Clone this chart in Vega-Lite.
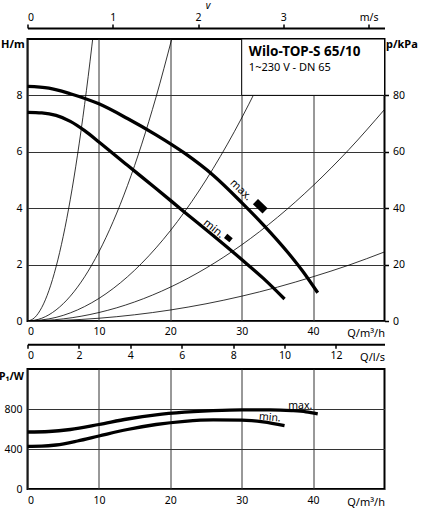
{
  "$schema": "https://vega.github.io/schema/vega-lite/v6.json",
  "padding": {"left": -2.5, "top": 0, "right": 0, "bottom": 0},
  "background": "#ffffff",
  "config": {
    "font": "Noto Sans",
    "view": {"stroke": "#000000", "strokeWidth": 2},
    "axis": {
      "labelFont": "Noto Sans", "labelFontSize": 10.5, "labelColor": "#000000",
      "titleFont": "Noto Sans", "titleColor": "#000000", "titleFontSize": 11, "titleFontWeight": "normal",
      "domain": false, "ticks": false, "grid": false,
      "gridColor": "#333333", "gridWidth": 1, "gridOpacity": 1, "labelPadding": 5
    }
  },
  "datasets": {
    "system": [
      {"k": "s1", "Q": 0, "H": 0}, {"k": "s1", "Q": 1, "H": 0.12}, {"k": "s1", "Q": 2, "H": 0.48}, {"k": "s1", "Q": 3, "H": 1.08},
      {"k": "s1", "Q": 4, "H": 1.92}, {"k": "s1", "Q": 5, "H": 3.0}, {"k": "s1", "Q": 6, "H": 4.32}, {"k": "s1", "Q": 7, "H": 5.88},
      {"k": "s1", "Q": 8, "H": 7.68}, {"k": "s1", "Q": 9, "H": 9.72}, {"k": "s1", "Q": 9.13, "H": 10.0},
      {"k": "s2", "Q": 0, "H": 0}, {"k": "s2", "Q": 2, "H": 0.098}, {"k": "s2", "Q": 4, "H": 0.392}, {"k": "s2", "Q": 6, "H": 0.882},
      {"k": "s2", "Q": 8, "H": 1.568}, {"k": "s2", "Q": 10, "H": 2.45}, {"k": "s2", "Q": 12, "H": 3.528}, {"k": "s2", "Q": 14, "H": 4.802},
      {"k": "s2", "Q": 16, "H": 6.272}, {"k": "s2", "Q": 18, "H": 7.938}, {"k": "s2", "Q": 20.2, "H": 10.0},
      {"k": "s3", "Q": 0, "H": 0}, {"k": "s3", "Q": 4, "H": 0.128}, {"k": "s3", "Q": 8, "H": 0.512}, {"k": "s3", "Q": 12, "H": 1.152},
      {"k": "s3", "Q": 16, "H": 2.048}, {"k": "s3", "Q": 20, "H": 3.2}, {"k": "s3", "Q": 24, "H": 4.608}, {"k": "s3", "Q": 28, "H": 6.272},
      {"k": "s3", "Q": 32, "H": 8.192}, {"k": "s3", "Q": 34, "H": 9.248},
      {"k": "s4", "Q": 0, "H": 0}, {"k": "s4", "Q": 5, "H": 0.075}, {"k": "s4", "Q": 10, "H": 0.3}, {"k": "s4", "Q": 15, "H": 0.675},
      {"k": "s4", "Q": 20, "H": 1.2}, {"k": "s4", "Q": 25, "H": 1.875}, {"k": "s4", "Q": 30, "H": 2.7}, {"k": "s4", "Q": 35, "H": 3.675},
      {"k": "s4", "Q": 40, "H": 4.8}, {"k": "s4", "Q": 45, "H": 6.075}, {"k": "s4", "Q": 50, "H": 7.5},
      {"k": "s5", "Q": 0, "H": 0}, {"k": "s5", "Q": 5, "H": 0.0245}, {"k": "s5", "Q": 10, "H": 0.098}, {"k": "s5", "Q": 15, "H": 0.22},
      {"k": "s5", "Q": 20, "H": 0.39}, {"k": "s5", "Q": 25, "H": 0.61}, {"k": "s5", "Q": 30, "H": 0.88}, {"k": "s5", "Q": 35, "H": 1.2},
      {"k": "s5", "Q": 40, "H": 1.57}, {"k": "s5", "Q": 45, "H": 1.98}, {"k": "s5", "Q": 50, "H": 2.45}
    ],
    "pump": [
      {"curve": "max", "Q": 0, "H": 8.32}, {"curve": "max", "Q": 3, "H": 8.26}, {"curve": "max", "Q": 6, "H": 8.06},
      {"curve": "max", "Q": 10, "H": 7.70}, {"curve": "max", "Q": 14, "H": 7.18}, {"curve": "max", "Q": 18, "H": 6.6},
      {"curve": "max", "Q": 22, "H": 5.95}, {"curve": "max", "Q": 26, "H": 5.17}, {"curve": "max", "Q": 30, "H": 4.2},
      {"curve": "max", "Q": 33, "H": 3.42}, {"curve": "max", "Q": 36.5, "H": 2.42}, {"curve": "max", "Q": 38.5, "H": 1.78},
      {"curve": "max", "Q": 40.65, "H": 1.0},
      {"curve": "min", "Q": 0, "H": 7.40}, {"curve": "min", "Q": 2, "H": 7.38}, {"curve": "min", "Q": 4, "H": 7.29},
      {"curve": "min", "Q": 6, "H": 7.08}, {"curve": "min", "Q": 8, "H": 6.75}, {"curve": "min", "Q": 10, "H": 6.35},
      {"curve": "min", "Q": 14, "H": 5.52}, {"curve": "min", "Q": 18, "H": 4.7}, {"curve": "min", "Q": 22, "H": 3.86},
      {"curve": "min", "Q": 26, "H": 3.03}, {"curve": "min", "Q": 30, "H": 2.18}, {"curve": "min", "Q": 33, "H": 1.52},
      {"curve": "min", "Q": 36, "H": 0.78}
    ],
    "power": [
      {"curve": "max", "Q": 0, "P": 570}, {"curve": "max", "Q": 3, "P": 575}, {"curve": "max", "Q": 6, "P": 595},
      {"curve": "max", "Q": 10, "P": 645}, {"curve": "max", "Q": 14, "P": 700}, {"curve": "max", "Q": 18, "P": 742},
      {"curve": "max", "Q": 22, "P": 768}, {"curve": "max", "Q": 26, "P": 784}, {"curve": "max", "Q": 30, "P": 792},
      {"curve": "max", "Q": 34, "P": 792}, {"curve": "max", "Q": 37, "P": 784}, {"curve": "max", "Q": 39, "P": 772},
      {"curve": "max", "Q": 40.65, "P": 752},
      {"curve": "min", "Q": 0, "P": 426}, {"curve": "min", "Q": 2, "P": 428}, {"curve": "min", "Q": 4, "P": 440},
      {"curve": "min", "Q": 7, "P": 480}, {"curve": "min", "Q": 10, "P": 530}, {"curve": "min", "Q": 14, "P": 595},
      {"curve": "min", "Q": 18, "P": 645}, {"curve": "min", "Q": 22, "P": 677}, {"curve": "min", "Q": 26, "P": 691},
      {"curve": "min", "Q": 30, "P": 689}, {"curve": "min", "Q": 33, "P": 672}, {"curve": "min", "Q": 36, "P": 634}
    ]
  },
  "bounds": "flush",
  "spacing": 0,
  "vconcat": [
    {
      "width": 357,
      "height": 11,
      "view": {"stroke": null},
      "data": {"values": [{"v": 0}, {"v": 4}]},
      "mark": {"type": "rule", "opacity": 0},
      "encoding": {
        "x": {"field": "v", "type": "quantitative", "scale": {"domain": [0, 4.186], "nice": false, "zero": false},
          "axis": {"orient": "top", "values": [0, 1, 2, 3, 4], "labelExpr": "datum.value == 4 ? 'm/s' : datum.label",
            "domain": true, "domainColor": "#000000", "domainWidth": 2, "ticks": true, "tickSize": 4, "tickWidth": 1.5, "tickColor": "#000000",
            "labelPadding": 2, "grid": false,
            "title": "v", "titleFontSize": 10, "titleFontStyle": "italic", "titleX": 180, "titleY": -20, "titleAlign": "center", "titleBaseline": "alphabetic"}}
      }
    },
    {
      "width": 357,
      "height": 282,
      "resolve": {"scale": {"y": "independent"}},
      "layer": [
        {"data": {"name": "system"}, "mark": {"type": "line", "stroke": "#000000", "strokeWidth": 0.8, "interpolate": "monotone", "clip": true},
          "encoding": {
            "x": {"field": "Q", "type": "quantitative", "scale": {"domain": [0, 50], "nice": false, "zero": false},
              "axis": {"orient": "bottom", "values": [0, 10, 20, 30, 40], "grid": true, "labelPadding": 5,
                "title": "Q/m³/h", "titleX": 357, "titleY": 15, "titleAlign": "right", "titleAnchor": "end", "titleBaseline": "alphabetic"}},
            "y": {"field": "H", "type": "quantitative", "scale": {"domain": [0, 10], "nice": false, "zero": false},
              "axis": {"orient": "left", "values": [0, 2, 4, 6, 8], "grid": true, "labelPadding": 5.5,
                "title": "H/m", "titleAngle": 0, "titleX": -27, "titleY": 8.5, "titleAlign": "left", "titleAnchor": "start", "titleBaseline": "alphabetic", "titleFontWeight": "bold"}},
            "detail": {"field": "k"}
          }},
        {"data": {"name": "pump"}, "mark": {"type": "line", "stroke": "#000000", "strokeWidth": 3.3, "interpolate": "monotone", "strokeCap": "butt"},
          "encoding": {
            "x": {"field": "Q", "type": "quantitative"},
            "y": {"field": "H", "type": "quantitative", "scale": {"domain": [0, 10], "nice": false, "zero": false}, "axis": null},
            "detail": {"field": "curve"}
          }},
        {"data": {"values": [{"Q": 30, "H": 8, "Q2": 50, "H2": 10}]}, "mark": {"type": "rect", "fill": "#ffffff", "stroke": "#000000", "strokeWidth": 1},
          "encoding": {
            "x": {"field": "Q", "type": "quantitative"}, "x2": {"field": "Q2"},
            "y": {"field": "H", "type": "quantitative", "scale": {"domain": [0, 10], "nice": false, "zero": false}, "axis": null}, "y2": {"field": "H2"}
          }},
        {"data": {"values": [{"Q": 31, "H": 9.41, "t": "Wilo-TOP-S 65/10"}]}, "mark": {"type": "text", "align": "left", "baseline": "alphabetic", "fontSize": 13.5, "fontWeight": "bold", "color": "#000000"},
          "encoding": {
            "x": {"field": "Q", "type": "quantitative"},
            "y": {"field": "H", "type": "quantitative", "scale": {"domain": [0, 10], "nice": false, "zero": false}, "axis": null},
            "text": {"field": "t"}
          }},
        {"data": {"values": [{"Q": 31, "H": 8.88, "t": "1~230 V - DN 65"}]}, "mark": {"type": "text", "align": "left", "baseline": "alphabetic", "fontSize": 11, "color": "#000000"},
          "encoding": {
            "x": {"field": "Q", "type": "quantitative"},
            "y": {"field": "H", "type": "quantitative", "scale": {"domain": [0, 10], "nice": false, "zero": false}, "axis": null},
            "text": {"field": "t"}
          }},
        {"data": {"values": [{"Q": 29.86, "H": 4.64, "t": "max."}]}, "mark": {"type": "text", "align": "center", "baseline": "middle", "fontSize": 11, "angle": 44, "color": "#000000"},
          "encoding": {
            "x": {"field": "Q", "type": "quantitative"},
            "y": {"field": "H", "type": "quantitative", "scale": {"domain": [0, 10], "nice": false, "zero": false}, "axis": null},
            "text": {"field": "t"}
          }},
        {"data": {"values": [{"Q": 26.07, "H": 3.27, "t": "min."}]}, "mark": {"type": "text", "align": "center", "baseline": "middle", "fontSize": 11, "angle": 39, "color": "#000000"},
          "encoding": {
            "x": {"field": "Q", "type": "quantitative"},
            "y": {"field": "H", "type": "quantitative", "scale": {"domain": [0, 10], "nice": false, "zero": false}, "axis": null},
            "text": {"field": "t"}
          }},
        {"data": {"values": [{"Q": 32.6, "H": 4.07}]}, "mark": {"type": "point", "shape": "M-1,-0.55L1,-0.55L1,0.55L-1,0.55Z", "filled": true, "color": "#000000", "opacity": 1, "size": 180, "angle": 44},
          "encoding": {
            "x": {"field": "Q", "type": "quantitative"},
            "y": {"field": "H", "type": "quantitative", "scale": {"domain": [0, 10], "nice": false, "zero": false}, "axis": null}
          }},
        {"data": {"values": [{"Q": 28.13, "H": 2.94}]}, "mark": {"type": "point", "shape": "M-1,-0.75L1,-0.75L1,0.75L-1,0.75Z", "filled": true, "color": "#000000", "opacity": 1, "size": 49, "angle": 39},
          "encoding": {
            "x": {"field": "Q", "type": "quantitative"},
            "y": {"field": "H", "type": "quantitative", "scale": {"domain": [0, 10], "nice": false, "zero": false}, "axis": null}
          }},
        {"data": {"values": [{"p": 0}, {"p": 80}]}, "mark": {"type": "rule", "opacity": 0},
          "encoding": {
            "y": {"field": "p", "type": "quantitative", "scale": {"domain": [0, 100], "nice": false, "zero": false},
              "axis": {"orient": "right", "values": [0, 20, 40, 60, 80], "ticks": true, "tickSize": 4, "tickWidth": 1.5, "tickColor": "#000000",
                "labelPadding": 4, "grid": false,
                "title": "p/kPa", "titleAngle": 0, "titleX": 1, "titleY": 8.5, "titleAlign": "left", "titleAnchor": "start", "titleBaseline": "alphabetic", "titleFontWeight": "bold"}}
          }}
      ]
    },
    {
      "width": 357,
      "height": 47.6,
      "view": {"stroke": null},
      "data": {"values": [{"qls": 0}, {"qls": 12}]},
      "mark": {"type": "rule", "opacity": 0},
      "encoding": {
        "x": {"field": "qls", "type": "quantitative", "scale": {"domain": [0, 13.889], "nice": false, "zero": false},
          "axis": {"orient": "bottom", "offset": -24.3, "values": [0, 2, 4, 6, 8, 10, 12], "domain": true, "domainColor": "#000000", "domainWidth": 2,
            "ticks": true, "tickSize": 4, "tickWidth": 1.5, "tickColor": "#000000", "labelPadding": 2, "grid": false,
            "title": "Q/l/s", "titleX": 357, "titleY": 16, "titleAlign": "right", "titleAnchor": "end", "titleBaseline": "alphabetic"}}
      }
    },
    {
      "width": 357,
      "height": 120,
      "encoding": {
        "x": {"field": "Q", "type": "quantitative", "scale": {"domain": [0, 50], "nice": false, "zero": false},
          "axis": {"values": [0, 10, 20, 30, 40], "grid": true, "labelPadding": 6,
            "title": "Q/m³/h", "titleX": 357, "titleY": 16, "titleAlign": "right", "titleAnchor": "end", "titleBaseline": "alphabetic"}},
        "y": {"field": "P", "type": "quantitative", "scale": {"domain": [0, 1200], "nice": false, "zero": false},
          "axis": {"values": [0, 400, 800], "grid": true, "labelPadding": 5.5,
            "title": "P₁/W", "titleFontSize": 10.5, "titleAngle": 0, "titleX": -29, "titleY": 10, "titleAlign": "left", "titleAnchor": "start", "titleBaseline": "alphabetic", "titleFontWeight": "bold"}}
      },
      "layer": [
        {"data": {"name": "power"}, "mark": {"type": "line", "stroke": "#000000", "strokeWidth": 3.3, "interpolate": "monotone", "strokeCap": "butt"},
          "encoding": {"detail": {"field": "curve"}}},
        {"data": {"values": [{"Q": 38.2, "P": 805, "t": "max."}]}, "mark": {"type": "text", "align": "center", "baseline": "alphabetic", "fontSize": 10.5, "color": "#000000"},
          "encoding": {"text": {"field": "t"}}},
        {"data": {"values": [{"Q": 33.9, "P": 685, "t": "min."}]}, "mark": {"type": "text", "align": "center", "baseline": "alphabetic", "fontSize": 10.5, "angle": 5, "color": "#000000"},
          "encoding": {"text": {"field": "t"}}}
      ]
    }
  ]
}
